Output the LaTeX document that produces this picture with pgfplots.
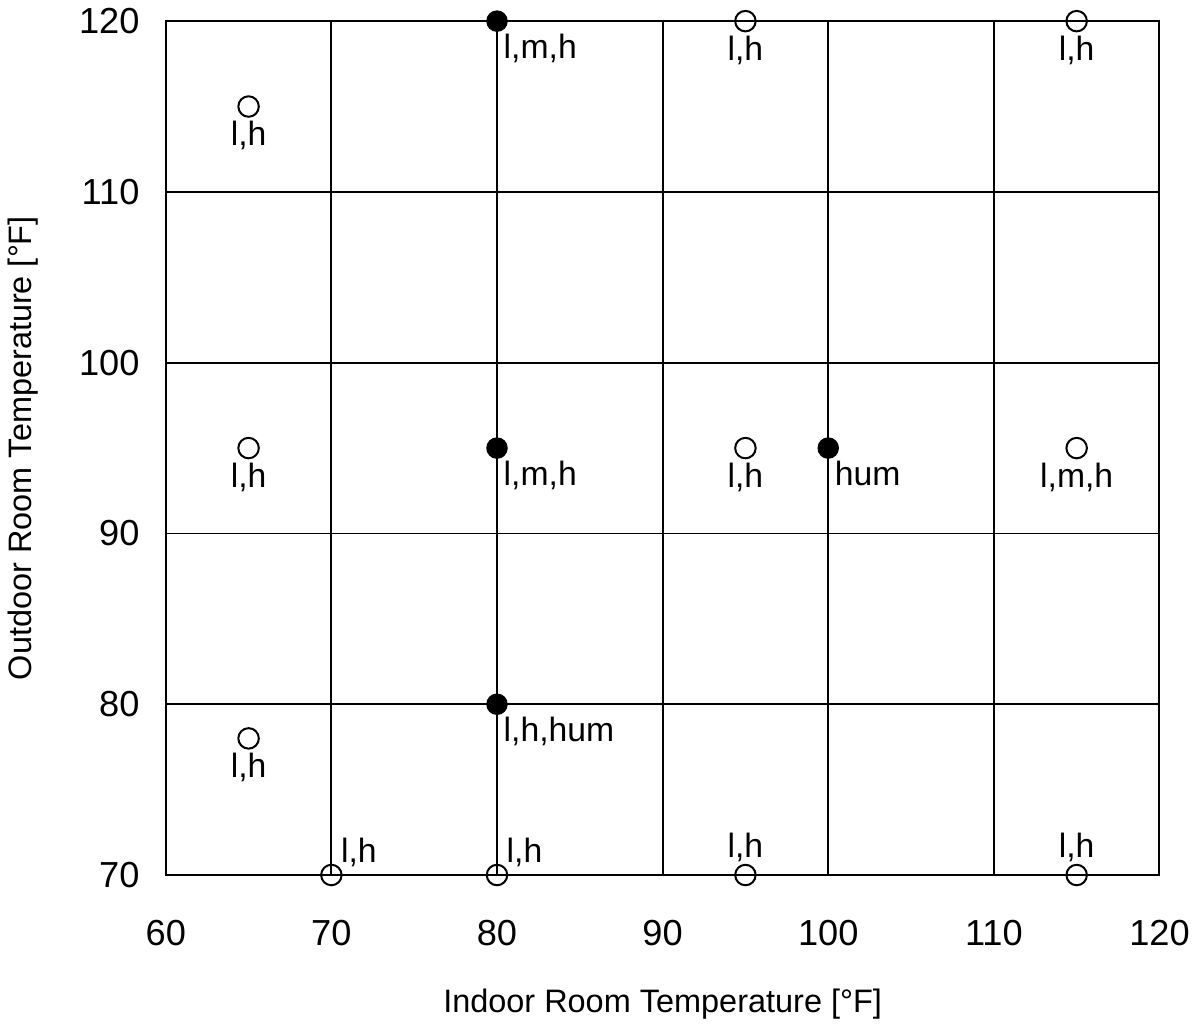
\documentclass[border=0pt]{standalone}
\usepackage{fontspec}
\setmainfont{Liberation Sans}
\usepackage{pgfplots}
\pgfplotsset{compat=1.18}
\begin{document}
\begin{tikzpicture}
\begin{axis}[
  width=398pt, height=342pt, scale only axis,
  xmin=60, xmax=120, ymin=70, ymax=120,
  xtick={60,70,...,120}, ytick={70,80,...,120},
  grid=major,
  major grid style={black, line width=0.75pt},
  axis line style={black, line width=0.8pt},
  major tick length=0pt,
  tick label style={font=\fontsize{14.5}{17}\selectfont},
  /pgf/number format/assume math mode=true,
  xticklabel style={yshift=-14.5pt},
  yticklabel style={xshift=-7pt},
  xlabel={Indoor Room Temperature [°F]},
  ylabel={Outdoor Room Temperature [°F]},
  label style={font=\fontsize{13}{15}\selectfont},
  xlabel style={at={(axis description cs:0.5,0)}, anchor=north, yshift=-42pt},
  ylabel style={at={(axis description cs:0,0.5)}, anchor=center, yshift=57pt},
  clip=false,
  point meta=explicit symbolic,
  nodes near coords,
  every node near coord/.append style={font=\fontsize{13.5}{15}\selectfont, inner sep=1pt},
  open/.style={only marks, mark=o, mark size=4.1pt, mark options={black, line width=0.8pt, fill=white}},
  full/.style={only marks, mark=*, mark size=4.1pt, mark options={black, fill=black}},
]
% open markers, label centred below
\addplot[open, every node near coord/.append style={anchor=north, yshift=-4.5pt}]
  table[meta=lab] {
x y lab
65 115 {l,h}
95 120 {l,h}
115 120 {l,h}
65 95 {l,h}
95 95 {l,h}
115 95 {l,m,h}
65 78 {l,h}
};
% open markers on the bottom edge, label above right
\addplot[open, every node near coord/.append style={anchor=south west, xshift=2.5pt, yshift=2pt}]
  table[meta=lab] {
x y lab
70 70 {l,h}
80 70 {l,h}
};
% open markers on the bottom edge, label centred above
\addplot[open, every node near coord/.append style={anchor=south, yshift=4pt}]
  table[meta=lab] {
x y lab
95 70 {l,h}
115 70 {l,h}
};
% filled markers, label below right
\addplot[full, every node near coord/.append style={anchor=north west, xshift=1.5pt, yshift=-4pt}]
  table[meta=lab] {
x y lab
80 120 {l,m,h}
80 95 {l,m,h}
80 80 {l,h,hum}
100 95 {hum}
};
\end{axis}
\end{tikzpicture}
\end{document}
